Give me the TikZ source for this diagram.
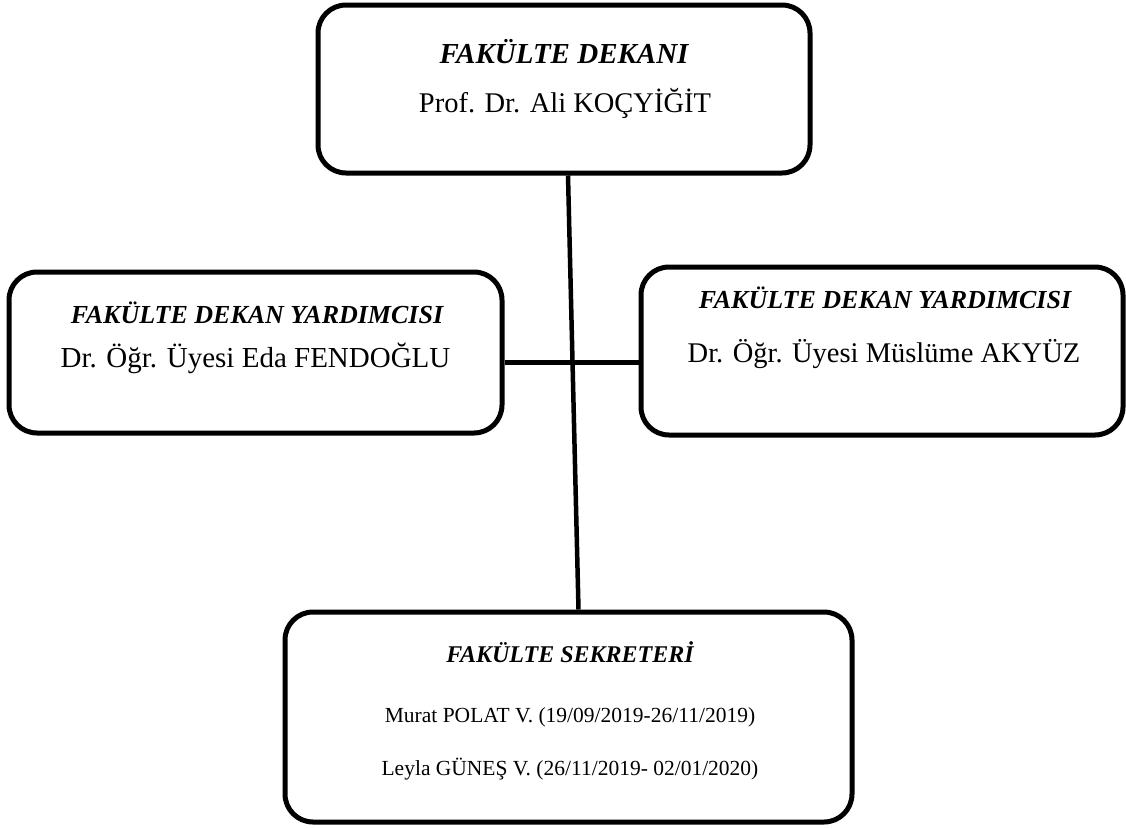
\documentclass[tikz,border=0pt]{standalone}
\usepackage{fontspec}
\setmainfont{Liberation Serif}
\begin{document}
\begin{tikzpicture}[x=1pt, y=-1pt,
  box/.style={draw, line width=5pt, rounded corners=28pt, inner sep=0pt},
  ttl/.style={anchor=base, inner sep=0pt, font=\bfseries\itshape\fontsize{#1}{#1}\selectfont},
  nm/.style={anchor=base, inner sep=0pt, font=\fontsize{#1}{#1}\selectfont},
  link/.style={line width=4.5pt}]
\useasboundingbox (0,0) rectangle (1126,828);
% dean
\node[box, minimum width=492pt, minimum height=168pt] (dekan) at (564,89){};
\node[ttl=29] (dekanttl) at (564,63){FAKÜLTE DEKANI};
\node[nm=28.5] (dekannm) at (565,112){Prof. Dr. Ali KOÇYİĞİT};
% deputies
\node[box, minimum width=493pt, minimum height=161pt] (yrdl) at (255.5,352.5){};
\node[ttl=26] (yrdlttl) at (257,323){FAKÜLTE DEKAN YARDIMCISI};
\node[nm=29] (yrdlnm) at (255.5,367){Dr. Öğr. Üyesi Eda FENDOĞLU};
\node[box, minimum width=482pt, minimum height=168pt] (yrdr) at (882,351){};
\node[ttl=26] (yrdrttl) at (885,308){FAKÜLTE DEKAN YARDIMCISI};
\node[nm=28.5] (yrdrnm) at (884,362){Dr. Öğr. Üyesi Müslüme AKYÜZ};
% secretary
\node[box, minimum width=567pt, minimum height=210pt] (sekr) at (568.5,717){};
\node[ttl=24] (sekrttl) at (570,662){FAKÜLTE SEKRETERİ};
\node[nm=21.5] (sekrnm1) at (570,722){Murat POLAT V. (19/09/2019-26/11/2019)};
\node[nm=21.5] (sekrnm2) at (570,775){Leyla GÜNEŞ V. (26/11/2019- 02/01/2020)};
% links
\draw[link] ([yshift=-10pt]yrdl.east) -- ([yshift=-10pt]yrdl.east -| yrdr.west);
\draw[link] ([xshift=4pt]dekan.south) -- ([xshift=10pt]sekr.north);
\end{tikzpicture}
\end{document}
